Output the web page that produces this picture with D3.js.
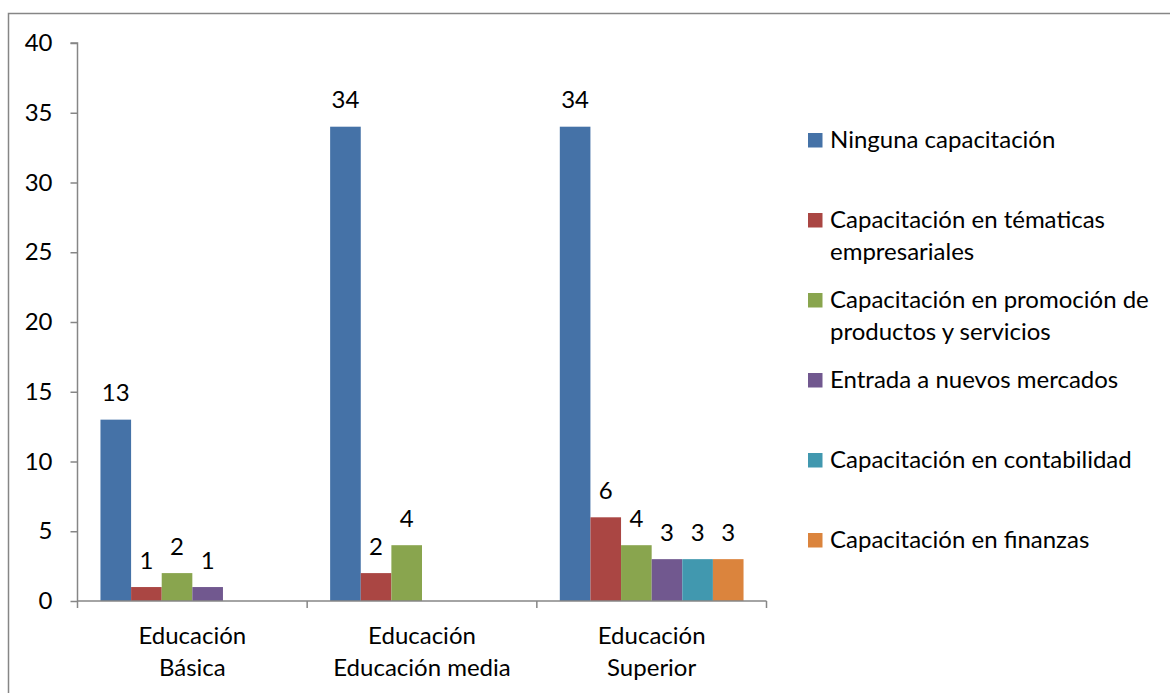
<!DOCTYPE html>
<html><head><meta charset="utf-8">
<script src="https://cdn.jsdelivr.net/npm/d3@7"></script>
<style>body{margin:0;background:#fff}svg{display:block}</style>
</head><body>
<svg id="c" width="1170" height="693"></svg>
<script>
const categories = [["Educación","Básica"],["Educación","Educación media"],["Educación","Superior"]];
const categoryKeys = ["Básica","Media","Superior"];
const seriesNames = [
  ["Ninguna capacitación"],
  ["Capacitación en tématicas","empresariales"],
  ["Capacitación en promoción de","productos y servicios"],
  ["Entrada a nuevos mercados"],
  ["Capacitación en contabilidad"],
  ["Capacitación en finanzas"]
];
const ninguna      = [13, 34, 34];
const tematicas    = [1, 2, 6];
const promocion    = [2, 4, 4];
const mercados     = [1, null, 3];
const contabilidad = [null, null, 3];
const finanzas     = [null, null, 3];
const seriesValues = [ninguna, tematicas, promocion, mercados, contabilidad, finanzas];
const colors = ["#4572A7","#AA4643","#89A54E","#71588F","#4198AF","#DB843D"];
const yTicks = [0,5,10,15,20,25,30,35,40];

(function(){
const FONT = "Lato, 'Noto Sans', sans-serif";
const FS = 24;
const svg = d3.select("#c");
const axisColor = "#868686";

svg.append("rect").attr("x",8.5).attr("y",13.5).attr("width",1300).attr("height",800)
  .attr("fill","none").attr("stroke",axisColor).attr("stroke-width",1.5);

const pL = 77.5, pR = 766.5, pT = 43, pB = 601;
const y = d3.scaleLinear().domain([0,40]).range([pB, pT]);
const x0 = d3.scaleBand().domain(categoryKeys).range([pL, pR]).padding(0);
const gw = x0.bandwidth();
const x1 = d3.scaleBand().domain(d3.range(seriesNames.length)).range([gw*0.1, gw*0.9]).padding(0);

const yAxis = d3.axisLeft(y).tickValues(yTicks).tickSize(7).tickPadding(18);
const gy = svg.append("g").attr("transform",`translate(${pL},0)`).call(yAxis);
gy.select(".domain").attr("stroke",axisColor).attr("stroke-width",1.5).attr("d",`M-7,${pT}H0V${pB}`);
gy.selectAll(".tick line").attr("stroke",axisColor).attr("stroke-width",1.5);
gy.selectAll(".tick text").attr("font-family",FONT).attr("font-size",FS).attr("fill","#000");

categoryKeys.forEach((c,ci)=>{
  seriesValues.forEach((vals,si)=>{
    const v = vals[ci];
    if (v==null) return;
    const bx = x0(c)+x1(si);
    svg.append("rect").attr("x",bx).attr("y",y(v)).attr("width",x1.bandwidth()).attr("height",y(0)-y(v))
      .attr("fill",colors[si]);
    svg.append("text").attr("x",bx+x1.bandwidth()/2).attr("y",y(v)-18.5).attr("text-anchor","middle")
      .attr("font-family",FONT).attr("font-size",FS).attr("fill","#000").text(v);
  });
});

svg.append("line").attr("x1",pL).attr("x2",pR).attr("y1",pB).attr("y2",pB)
  .attr("stroke",axisColor).attr("stroke-width",1.5);
const bounds = categoryKeys.map(c=>x0(c)).concat([pR]);
bounds.forEach(b=>svg.append("line").attr("x1",b).attr("x2",b).attr("y1",pB).attr("y2",pB+7)
  .attr("stroke",axisColor).attr("stroke-width",1.5));
categoryKeys.forEach((c,ci)=>{
  const t = svg.append("text").attr("x",x0(c)+gw/2).attr("y",643.5).attr("text-anchor","middle")
    .attr("font-family",FONT).attr("font-size",FS).attr("fill","#000");
  categories[ci].forEach((ln,li)=>t.append("tspan").attr("x",x0(c)+gw/2).attr("dy",li?32.5:0).text(ln));
});

const legBase = [148,228,308,388,468,548];
seriesNames.forEach((nm,i)=>{
  svg.append("rect").attr("x",808).attr("y",legBase[i]-15).attr("width",14.5).attr("height",14.5).attr("fill",colors[i]);
  const t = svg.append("text").attr("x",830).attr("y",legBase[i]).attr("font-family",FONT).attr("font-size",FS).attr("fill","#000");
  nm.forEach((ln,li)=>t.append("tspan").attr("x",830).attr("dy",li?32:0).text(ln));
});
})();
</script>
</body></html>
